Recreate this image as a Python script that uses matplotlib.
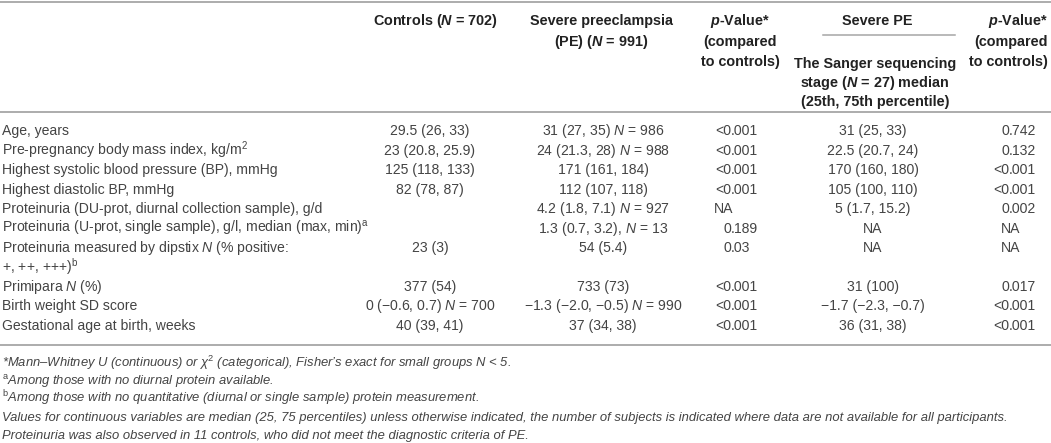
import matplotlib
matplotlib.use('Agg')
import matplotlib.pyplot as plt

plt.rcParams['font.family'] = ['Liberation Sans', 'DejaVu Sans']
plt.rcParams['mathtext.fontset'] = 'custom'
plt.rcParams['mathtext.rm'] = 'Liberation Sans'
plt.rcParams['mathtext.it'] = 'Liberation Sans:italic'
plt.rcParams['mathtext.bf'] = 'Liberation Sans:italic:bold'

# table content
row_labels = [
    'Age, years',
    'Pre-pregnancy body mass index, kg/m$^{2}$',
    'Highest systolic blood pressure (BP), mmHg',
    'Highest diastolic BP, mmHg',
    'Proteinuria (DU-prot, diurnal collection sample), g/d',
    'Proteinuria (U-prot, single sample), g/l, median (max, min)$^{\\mathrm{a}}$',
    'Proteinuria measured by dipstix $N$ (% positive:\n+, ++, +++)$^{\\mathrm{b}}$',
    'Primipara $N$ (%)',
    'Birth weight SD score',
    'Gestational age at birth, weeks',
]
controls = ['29.5 (26, 33)', '23 (20.8, 25.9)', '125 (118, 133)', '82 (78, 87)',
            '', '', '23 (3)', '377 (54)', '0 (\u22120.6, 0.7) $N$ = 700', '40 (39, 41)']
severe_pe = ['31 (27, 35) $N$ = 986', '24 (21.3, 28) $N$ = 988', '171 (161, 184)',
             '112 (107, 118)', '4.2 (1.8, 7.1) $N$ = 927', '1.3 (0.7, 3.2), $N$ = 13',
             '54 (5.4)', '733 (73)', '\u22121.3 (\u22122.0, \u22120.5) $N$ = 990', '37 (34, 38)']
p_controls = ['<0.001', '<0.001', '<0.001', '<0.001', 'NA', '0.189', '0.03',
              '<0.001', '<0.001', '<0.001']
sanger = ['31 (25, 33)', '22.5 (20.7, 24)', '170 (160, 180)', '105 (100, 110)',
          '5 (1.7, 15.2)', 'NA', 'NA', '31 (100)', '\u22121.7 (\u22122.3, \u22120.7)', '36 (31, 38)']
p_sanger = ['0.742', '0.132', '<0.001', '<0.001', '0.002', 'NA', 'NA',
            '0.017', '<0.001', '<0.001']

headers = [
    'Controls ($\\mathbf{N}$ = 702)',
    'Severe preeclampsia\n(PE) ($\\mathbf{N}$ = 991)',
    '$\\mathbf{p}$-Value*\n(compared\nto controls)',
    'Severe PE',
    '$\\mathbf{p}$-Value*\n(compared\nto controls)',
]
sanger_header = 'The Sanger sequencing\nstage ($\\mathbf{N}$ = 27) median\n(25th, 75th percentile)'

footnotes = [
    '*Mann\u2013Whitney U (continuous) or \u03c7$^{2}$ (categorical), Fisher\u2019s exact for small groups N < 5.',
    '$^{\\mathrm{a}}$Among those with no diurnal protein available.',
    '$^{\\mathrm{b}}$Among those with no quantitative (diurnal or single sample) protein measurement.',
    'Values for continuous variables are median (25, 75 percentiles) unless otherwise indicated, '
    'the number of subjects is indicated where data are not available for all participants.',
    'Proteinuria was also observed in 11 controls, who did not meet the diagnostic criteria of PE.',
]

W, H = 1051, 443
fig = plt.figure(figsize=(W / 100, H / 100), dpi=100)
ax = fig.add_axes([0, 0, 1, 1])
ax.set_xlim(0, W)
ax.set_ylim(H, 0)
ax.axis('off')

body_fs = 10.1
head_fs = 10.4
foot_fs = 9.4
txt_col = '#444444'
head_col = '#222222'
line_col = '#a6a6a6'


def put(x, y, s, ha='center', **kw):
    # y is the visual middle of the capitals, text sits on its baseline
    ax.text(x, y + 5, s, ha=ha, va='baseline', fontsize=body_fs, color=txt_col, **kw)


def put_dec(dec_x, na_x, y, s):
    # p-values are lined up on the decimal point
    if '.' in s:
        left, right = s.split('.', 1)
        put(dec_x, y, left, ha='right')
        put(dec_x, y, '.' + right, ha='left')
    else:
        put(na_x, y, s)


# rules
ax.plot([0, W], [1.5, 1.5], color=line_col, lw=1.3)
ax.plot([0, W], [111.5, 111.5], color=line_col, lw=1.3)
ax.plot([0, W], [345, 345], color=line_col, lw=1.3)
ax.plot([823, 955], [35, 35], color=line_col, lw=1.1)

# header
head_x = [435, 601, 740, 877, 1048]
head_ha = ['center', 'center', 'center', 'center', 'right']
for hx, ha, h in zip(head_x, head_ha, headers):
    for k, part in enumerate(h.split('\n')):
        ax.text(hx, 25 + k * 20.5, part, ha=ha, va='baseline', fontsize=head_fs,
                fontweight='bold', color=head_col)
for k, part in enumerate(sanger_header.split('\n')):
    ax.text(875, 68 + k * 18.8, part, ha='center', va='baseline', fontsize=head_fs,
            fontweight='bold', color=head_col)

# body rows
y0, step = 130.4, 19.45
slot = 0
for i, lab in enumerate(row_labels):
    y = y0 + slot * step
    for k, part in enumerate(lab.split('\n')):
        put(2, y + k * step, part, ha='left')
    put(430, y, controls[i])
    put(603, y, severe_pe[i])
    put_dec(731, 724, y, p_controls[i])
    put(873, y, sanger[i])
    put_dec(1009, 1011, y, p_sanger[i])
    slot += len(lab.split('\n'))

# footnotes
foot_y = [362, 380, 398, 416.5, 434.5]
for fy, f in zip(foot_y, footnotes):
    ax.text(2, fy + 4.5, f, ha='left', va='baseline', fontsize=foot_fs, style='italic',
            color=txt_col)

fig.savefig('out.png', dpi=100)
